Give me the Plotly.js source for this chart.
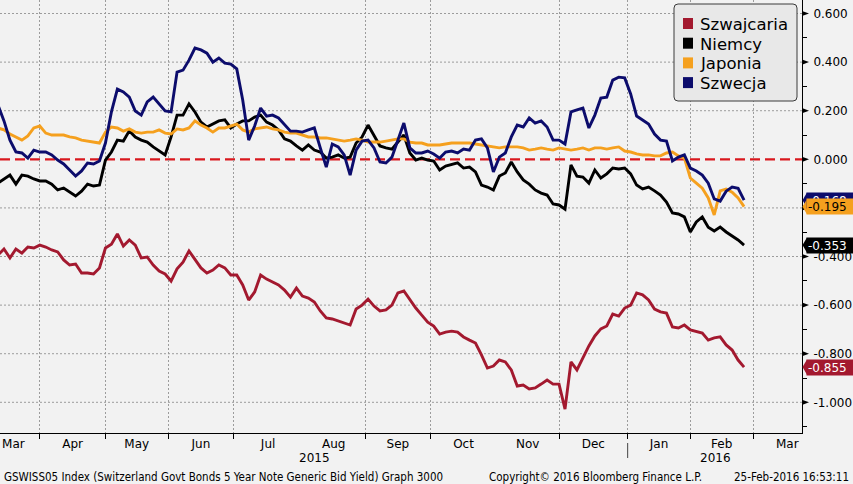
<!DOCTYPE html>
<html><head><meta charset="utf-8">
<script src="https://cdn.plot.ly/plotly-3.0.1.min.js"></script>
<style>html,body{margin:0;padding:0;background:#f2f2f2;}#chart{width:853px;height:484px;}</style>
</head><body><div id="chart"></div>
<script>
// ---- data ----
const seriesNames = ['Szwajcaria', 'Niemcy', 'Japonia', 'Szwecja'];
const seriesColors = ['#a3192f', '#000000', '#f5a01e', '#0c0c6c'];
const labelTextColors = ['#ffffff', '#ffffff', '#000000', '#ffffff'];

const szwajcaria = [
 -0.394,-0.369,-0.406,-0.369,-0.386,-0.361,-0.365,-0.353,-0.361,-0.373,
 -0.381,-0.414,-0.435,-0.431,-0.468,-0.468,-0.472,-0.447,-0.365,-0.349,
 -0.307,-0.357,-0.332,-0.353,-0.406,-0.402,-0.435,-0.460,-0.472,-0.501,
 -0.451,-0.423,-0.377,-0.414,-0.447,-0.468,-0.456,-0.435,-0.447,-0.476,
 -0.476,-0.517,-0.579,-0.546,-0.476,-0.493,-0.505,-0.517,-0.538,-0.567,
 -0.530,-0.563,-0.571,-0.587,-0.624,-0.653,-0.657,-0.665,-0.674,-0.682,
 -0.616,-0.600,-0.575,-0.604,-0.624,-0.620,-0.600,-0.550,-0.542,-0.579,
 -0.612,-0.641,-0.670,-0.686,-0.719,-0.711,-0.707,-0.711,-0.731,-0.744,
 -0.756,-0.805,-0.859,-0.851,-0.826,-0.834,-0.867,-0.933,-0.929,-0.945,
 -0.941,-0.925,-0.908,-0.925,-0.925,-1.028,-0.834,-0.867,-0.818,-0.768,
 -0.727,-0.698,-0.686,-0.637,-0.645,-0.612,-0.600,-0.550,-0.558,-0.579,
 -0.616,-0.628,-0.633,-0.690,-0.694,-0.682,-0.702,-0.707,-0.715,-0.744,
 -0.735,-0.731,-0.764,-0.785,-0.826,-0.855];

const niemcy = [
 -0.098,-0.081,-0.065,-0.102,-0.065,-0.069,-0.081,-0.089,-0.089,-0.102,
 -0.126,-0.118,-0.135,-0.151,-0.131,-0.102,-0.110,-0.106,-0.003,0.030,
 0.079,0.075,0.117,0.092,0.079,0.071,0.051,0.034,0.018,0.092,
 0.182,0.182,0.228,0.195,0.153,0.133,0.145,0.158,0.162,0.129,
 0.145,0.158,0.158,0.174,0.182,0.153,0.141,0.121,0.084,0.075,
 0.055,0.038,0.059,0.038,0.030,0.005,0.009,0.018,0.005,0.009,
 0.067,0.092,0.141,0.100,0.055,0.047,0.042,0.071,0.100,0.026,
 -0.003,0.005,-0.003,-0.007,-0.044,-0.028,-0.023,-0.015,-0.036,-0.032,
 -0.052,-0.106,-0.114,-0.126,-0.069,-0.056,-0.011,-0.052,-0.085,-0.102,
 -0.126,-0.139,-0.147,-0.184,-0.188,-0.205,-0.023,-0.069,-0.073,-0.098,
 -0.044,-0.077,-0.060,-0.036,-0.040,-0.036,-0.060,-0.106,-0.122,-0.114,
 -0.130,-0.147,-0.176,-0.221,-0.225,-0.237,-0.299,-0.258,-0.237,-0.279,
 -0.295,-0.279,-0.299,-0.316,-0.332,-0.353];

const japonia = [
 0.129,0.121,0.104,0.092,0.079,0.096,0.129,0.137,0.108,0.100,
 0.100,0.100,0.092,0.088,0.079,0.075,0.071,0.067,0.112,0.133,
 0.129,0.116,0.125,0.112,0.108,0.112,0.112,0.121,0.108,0.104,
 0.125,0.121,0.129,0.158,0.141,0.129,0.112,0.129,0.129,0.137,
 0.145,0.121,0.112,0.125,0.129,0.133,0.125,0.121,0.112,0.108,
 0.108,0.100,0.092,0.092,0.088,0.088,0.084,0.079,0.075,0.079,
 0.084,0.079,0.071,0.071,0.071,0.075,0.079,0.084,0.084,0.071,
 0.067,0.067,0.059,0.059,0.059,0.063,0.067,0.067,0.067,0.067,
 0.063,0.059,0.055,0.051,0.047,0.051,0.051,0.051,0.047,0.038,
 0.042,0.047,0.042,0.038,0.047,0.042,0.038,0.042,0.047,0.038,
 0.047,0.047,0.042,0.047,0.051,0.034,0.030,0.022,0.018,0.018,
 0.014,0.014,0.026,0.030,0.014,0.005,-0.077,-0.098,-0.119,-0.159,
 -0.229,-0.130,-0.122,-0.135,-0.159,-0.195];

const szwecja = [
 0.223,0.158,0.079,0.030,0.026,0.005,0.038,0.030,0.030,0.018,
 -0.003,-0.019,-0.044,-0.069,-0.048,-0.015,-0.019,-0.007,0.067,0.195,
 0.289,0.277,0.256,0.199,0.182,0.236,0.256,0.228,0.199,0.195,
 0.359,0.367,0.408,0.458,0.450,0.437,0.400,0.417,0.396,0.392,
 0.372,0.244,0.079,0.137,0.211,0.178,0.182,0.170,0.145,0.116,
 0.116,0.112,0.121,0.129,0.047,-0.032,0.063,0.051,0.018,-0.065,
 0.038,0.075,0.079,0.047,-0.011,-0.015,0.009,0.079,0.149,0.047,
 0.026,0.026,0.034,0.022,0.005,0.030,0.034,0.026,0.042,0.038,
 0.079,0.084,0.047,-0.052,0.009,0.026,0.092,0.141,0.133,0.170,
 0.149,0.158,0.133,0.079,0.079,0.063,0.195,0.203,0.211,0.129,
 0.182,0.252,0.256,0.326,0.338,0.335,0.269,0.178,0.162,0.145,
 0.104,0.079,0.075,-0.007,0.009,0.018,-0.036,-0.048,-0.065,-0.098,
 -0.163,-0.172,-0.131,-0.114,-0.119,-0.168];

const lastDate = '2016-02-25';     // last observation
const stepWeekdays = 2;            // one value every 2nd trading day
const monthStarts = ['2015-03-01','2015-04-01','2015-05-01','2015-06-01','2015-07-01','2015-08-01',
  '2015-09-01','2015-10-01','2015-11-01','2015-12-01','2016-01-01','2016-02-01','2016-03-01','2016-04-01'];
const monthLabels = ['Mar','Apr','May','Jun','Jul','Aug','Sep','Oct','Nov','Dec','Jan','Feb','Mar'];
const yearLabels = ['2015', '2016'];
const yearBoundary = '2016-01-01';
const yTickVals = [-1.0, -0.8, -0.6, -0.4, -0.2, 0.0, 0.2, 0.4, 0.6];
const referenceLevel = 0.0;        // red dashed line
const xRange = ['2015-03-12 16:00', '2016-03-23 10:00'];
const yRange = [-1.1263, 0.6556];
const footerLeft = 'GSWISS05 Index (Switzerland Govt Bonds 5 Year Note Generic Bid Yield) Graph 3000';
const footerMid = 'Copyright\u00a9 2016 Bloomberg Finance L.P.';
const footerRight = '25-Feb-2016 16:53:11';

// ---- helpers ----
const DAY = 864e5;
function weekdaysBack(end, n, step) {
  const out = []; const d = new Date(end + 'T00:00:00Z');
  for (let i = 0; i < n; i++) {
    out.unshift(d.toISOString().slice(0, 10));
    let c = 0;
    while (c < step) { d.setUTCDate(d.getUTCDate() - 1); const w = d.getUTCDay(); if (w !== 0 && w !== 6) c++; }
  }
  return out;
}
function ms(s) { return new Date(s.replace(' ', 'T') + (s.length > 10 ? ':00Z' : 'T00:00:00Z')).getTime(); }
function iso(t) { return new Date(t).toISOString().replace('T', ' ').slice(0, 16); }
function isWeekday(t) { const w = new Date(t).getUTCDay(); return w !== 0 && w !== 6; }
function tradingMid(a, b) {
  const days = [];
  for (let t = a; t < b; t += DAY) if (isWeekday(t)) days.push(t);
  const h = days.length / 2, k = Math.floor(h);
  return days[Math.min(k, days.length - 1)] + (h - k) * DAY;
}
function clampInView(t, lo) {
  let r = Math.max(t, ms(lo) + 6.5 * DAY);
  while (!isWeekday(r)) r += DAY / 4;
  return r;
}

const allSeries = [szwajcaria, niemcy, japonia, szwecja];
const dates = weekdaysBack(lastDate, szwajcaria.length, stepWeekdays);
const labelVals = monthLabels.map((_, i) =>
  iso(clampInView(tradingMid(ms(monthStarts[i]), ms(monthStarts[i + 1])), xRange[0])));

const FONT = 'DejaVu Sans, Verdana, sans-serif';
const NARROW = 'DejaVu Sans Condensed, Liberation Sans Narrow, Liberation Sans, sans-serif';
const PW = 802, PH = 433;
const px = v => v / PW, py = v => 1 - v / PH;
const GRID = '#9c9c9c';

// ---- traces ----
const traces = [0, 1, 2, 3].map(i => ({
  type: 'scatter', mode: 'lines', x: dates, y: allSeries[i], name: seriesNames[i],
  line: { color: seriesColors[i], width: 2.9 }, showlegend: false, hoverinfo: 'skip'
}));

// ---- shapes ----
const shapes = [];
// horizontal dotted grid (the reference level gets the red dashed line instead)
yTickVals.filter(v => v !== referenceLevel).forEach(v => shapes.push({ type: 'line', layer: 'below',
  xref: 'paper', x0: 0, x1: 1, yref: 'y', y0: v, y1: v, line: { color: GRID, width: 1, dash: '2px,2px' } }));
shapes.push({ type: 'line', xref: 'paper', x0: 0, x1: 1, yref: 'y', y0: referenceLevel, y1: referenceLevel, layer: 'below',
  line: { color: '#d9181e', width: 2.2, dash: '10px,5px' } });
const W = 7 / PW, D = 2.6 / 243;
yTickVals.forEach(v => shapes.push({ type: 'path', xref: 'paper', yref: 'y',
  path: `M 1,${v + D} L ${1 + W},${v} L 1,${v - D} Z`, fillcolor: '#000', line: { width: 0 } }));
shapes.push({ type: 'line', xref: 'x', x0: yearBoundary, x1: yearBoundary, yref: 'paper',
  y0: -10 / PH, y1: -25 / PH, line: { color: '#444', width: 1 } });

// legend box (rounded) + colour squares
const L = 674, R = 797, T = 4, B = 101, r = 4;
shapes.push({ type: 'path', xref: 'paper', yref: 'paper', fillcolor: '#e8e8e8', line: { color: '#3a3a3a', width: 1 },
  path: `M ${px(L + r)},${py(T)} L ${px(R - r)},${py(T)} Q ${px(R)},${py(T)} ${px(R)},${py(T + r)} ` +
        `L ${px(R)},${py(B - r)} Q ${px(R)},${py(B)} ${px(R - r)},${py(B)} L ${px(L + r)},${py(B)} ` +
        `Q ${px(L)},${py(B)} ${px(L)},${py(B - r)} L ${px(L)},${py(T + r)} Q ${px(L)},${py(T)} ${px(L + r)},${py(T)} Z` });
const rowC = [23.5, 43.2, 62.9, 82.6];
const annotations = [];
seriesNames.forEach((n, i) => {
  shapes.push({ type: 'rect', xref: 'paper', yref: 'paper', x0: px(683), x1: px(693),
    y0: py(rowC[i] + 5.5), y1: py(rowC[i] - 5.5), fillcolor: seriesColors[i], line: { width: 0 } });
  annotations.push({ xref: 'paper', x: px(698), xanchor: 'left', yref: 'paper', y: py(rowC[i] + 1), yanchor: 'middle',
    text: n, showarrow: false, font: { family: FONT, size: 16.5, color: '#000' } });
});

// last-value tags on the right axis
const labelOrder = [3, 2, 1, 0];
const P1 = 1 / PW, HY = 7.6 / 243;
labelOrder.forEach(i => {
  const s = allSeries[i]; const v = s[s.length - 1];
  shapes.push({ type: 'path', xref: 'paper', yref: 'y',
    path: `M ${1 + 0.5 * P1},${v} L ${1 + 5 * P1},${v + HY} L ${1 + 5 * P1},${v - HY} Z`,
    fillcolor: seriesColors[i], line: { width: 0 } });
  annotations.push({ xref: 'paper', x: 1 + 4.5 * P1, xanchor: 'left', yref: 'y', y: v, yanchor: 'middle',
    text: v.toFixed(3), showarrow: false, bgcolor: seriesColors[i], borderpad: 1, width: 45, height: 13,
    align: 'left', font: { family: FONT, size: 12, color: labelTextColors[i] } });
});
const yearPos = [[xRange[0], yearBoundary], [yearBoundary, xRange[1]]];
yearLabels.forEach((t, i) => annotations.push({ xref: 'x', x: iso(tradingMid(ms(yearPos[i][0]), ms(yearPos[i][1]))),
  yref: 'paper', y: -25 / PH, yanchor: 'middle', text: t, showarrow: false, font: { family: FONT, size: 12, color: '#000' } }));
[[footerLeft, 2, 'left'], [footerMid, 487, 'left'], [footerRight, 851, 'right']].forEach(f =>
  annotations.push({ xref: 'paper', x: f[1] / PW, xanchor: f[2], yref: 'paper', y: -44 / PH, yanchor: 'middle',
    text: f[0], showarrow: false, font: { family: NARROW, size: 11.5, color: '#000' } }));

const layout = {
  width: 853, height: 484,
  margin: { l: 0, r: 51, t: 0, b: 51, pad: 0 },
  paper_bgcolor: '#f2f2f2', plot_bgcolor: '#f2f2f2',
  font: { family: FONT, size: 12, color: '#000' },
  showlegend: false,
  xaxis: {
    type: 'date', range: xRange, rangebreaks: [{ bounds: ['sat', 'mon'] }],
    tickmode: 'array', tickvals: labelVals, ticktext: monthLabels, ticks: '', showgrid: false,
    ticklabelstandoff: 0, tickfont: { family: FONT, size: 12, color: '#000' },
    showline: true, linecolor: '#000', linewidth: 1, zeroline: false,
    minor: { tickmode: 'array', tickvals: monthStarts, ticks: 'outside', ticklen: 5, tickcolor: '#000',
      showgrid: true, gridcolor: GRID, griddash: '2px,2px', gridwidth: 1 }
  },
  yaxis: {
    side: 'right', range: yRange, tickmode: 'array', tickvals: yTickVals,
    ticktext: yTickVals.map(v => v.toFixed(3)), ticks: '', ticklabelstandoff: 8,
    tickfont: { family: FONT, size: 12, color: '#000' },
    showgrid: false, zeroline: false,
    showline: true, linecolor: '#000', linewidth: 1,
    minor: { tickmode: 'array', tickvals: yTickVals.map(v => +(v - 0.1).toFixed(1)).concat([0.7]),
      ticks: 'outside', ticklen: 4, tickcolor: '#000', showgrid: false }
  },
  shapes: shapes, annotations: annotations
};
Plotly.newPlot('chart', traces, layout, { displayModeBar: false, staticPlot: true });
</script></body></html>
